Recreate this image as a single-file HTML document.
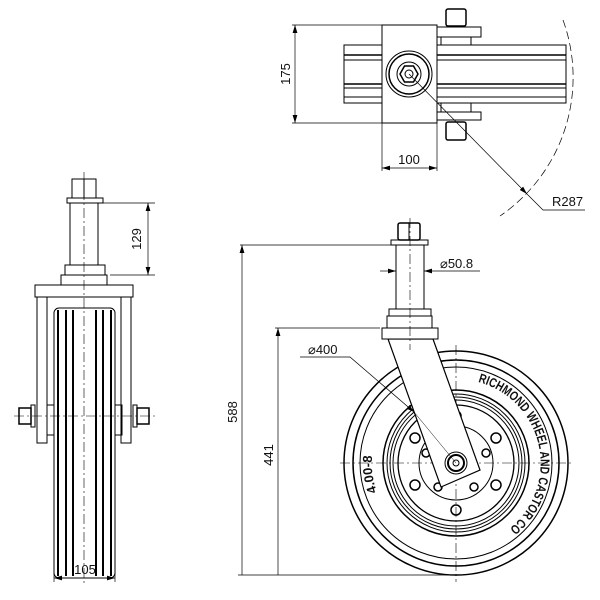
<!DOCTYPE html>
<html><head><style>
html,body{margin:0;padding:0;background:#fff;}
svg{display:block;}
text{font-family:"Liberation Sans",sans-serif;font-size:13px;fill:#111;}
</style></head><body>
<svg width="600" height="600" viewBox="0 0 600 600" xmlns="http://www.w3.org/2000/svg">
<defs>
<marker id="a" viewBox="0 0 10 6" refX="10" refY="3" markerWidth="8" markerHeight="5" orient="auto-start-reverse" markerUnits="userSpaceOnUse"><path d="M0,0 L10,3 L0,6 z" fill="#000"/></marker>
<path id="arcR" d="M478,382 A84,84 0 0 1 471,546"/>
<path id="arcL" d="M377,492 A84,84 0 0 1 377,434"/>
</defs>
<g fill="none" stroke="#000" stroke-width="1">

<rect x="72" y="179" width="24" height="19" fill="#fff"/>
<line x1="84" y1="179" x2="84" y2="198"/>
<rect x="67" y="198" width="36" height="5"/>
<rect x="70" y="203" width="28" height="62"/>
<rect x="65" y="265" width="40" height="10"/>
<rect x="61" y="275" width="46" height="10"/>
<rect x="35" y="285" width="98" height="12"/>
<rect x="37" y="297" width="10" height="146"/>
<rect x="121" y="297" width="10" height="146"/>
<rect x="54" y="308" width="61" height="270" rx="5"/>
<g stroke-width="2">
<line x1="58" y1="310" x2="58" y2="576"/>
<line x1="66" y1="310" x2="66" y2="576"/>
<line x1="73" y1="310" x2="73" y2="576"/>
<line x1="96" y1="310" x2="96" y2="576"/>
<line x1="103" y1="310" x2="103" y2="576"/>
<line x1="111" y1="310" x2="111" y2="576"/>
</g>
<rect x="47" y="405" width="7" height="30"/>
<rect x="115" y="405" width="7" height="30"/>
<rect x="19" y="408" width="12" height="16" stroke-width="1.5"/>
<rect x="31" y="405" width="4" height="22"/>
<rect x="137" y="408" width="12" height="16" stroke-width="1.5"/>
<rect x="133" y="405" width="4" height="22"/>
<line x1="84" y1="172" x2="84" y2="585" stroke-width="0.6" stroke-dasharray="10,3,2,3"/>
<line x1="14" y1="416" x2="155" y2="416" stroke-width="0.6" stroke-dasharray="10,3,2,3"/>
<line x1="103" y1="203" x2="155" y2="203" stroke-width="0.7"/>
<line x1="110" y1="275" x2="155" y2="275" stroke-width="0.7"/>
<line x1="148" y1="203" x2="148" y2="275" stroke-width="0.7" marker-start="url(#a)" marker-end="url(#a)"/>
<line x1="54" y1="560" x2="54" y2="582" stroke-width="0.7"/>
<line x1="115" y1="560" x2="115" y2="582" stroke-width="0.7"/>
<line x1="54" y1="578" x2="115" y2="578" stroke-width="0.7" marker-start="url(#a)" marker-end="url(#a)"/>

<rect x="344" y="45" width="222" height="58" fill="#fff"/>
<line x1="344" y1="55" x2="566" y2="55" stroke-width="1.5"/>
<line x1="344" y1="60" x2="566" y2="60"/>
<line x1="344" y1="84" x2="566" y2="84" stroke-width="1.5"/>
<line x1="344" y1="88" x2="566" y2="88"/>
<line x1="344" y1="97" x2="566" y2="97"/>
<rect x="437" y="27" width="44" height="10" fill="#fff"/>
<rect x="441" y="37" width="30" height="8" fill="#fff"/>
<rect x="437" y="112" width="44" height="8" fill="#fff"/>
<rect x="441" y="103" width="30" height="9" fill="#fff"/>
<rect x="446" y="9" width="20" height="17" rx="2" fill="#fff" stroke-width="1.5"/>
<rect x="446" y="122" width="20" height="18" rx="2" fill="#fff" stroke-width="1.5"/>
<rect x="382" y="25" width="55" height="98" fill="#fff"/>
<circle cx="409" cy="74" r="23"/>
<circle cx="409" cy="74" r="20" stroke-width="1.5"/>
<circle cx="409" cy="74" r="12"/>
<polygon points="418,74 413.5,82 404.5,82 400,74 404.5,66 413.5,66" stroke-width="1.5"/>
<circle cx="409" cy="74" r="4"/>
<line x1="292" y1="25" x2="382" y2="25" stroke-width="0.7"/>
<line x1="292" y1="123" x2="382" y2="123" stroke-width="0.7"/>
<line x1="295" y1="25" x2="295" y2="123" stroke-width="0.7" marker-start="url(#a)" marker-end="url(#a)"/>
<line x1="382" y1="123" x2="382" y2="171" stroke-width="0.7"/>
<line x1="437" y1="123" x2="437" y2="171" stroke-width="0.7"/>
<line x1="382" y1="168" x2="437" y2="168" stroke-width="0.7" marker-start="url(#a)" marker-end="url(#a)"/>
<path d="M563,20 A168,168 0 0 1 500,216" stroke-width="0.7" stroke-dasharray="8,4"/>
<line x1="409" y1="74" x2="527" y2="194" stroke-width="0.7" marker-end="url(#a)"/>
<polyline points="527,194 543,210 585,210" stroke-width="0.7"/>

<circle cx="456" cy="463" r="112" stroke-width="1.5"/>
<circle cx="456" cy="463" r="103" stroke-width="1.5"/>
<circle cx="456" cy="463" r="96"/>
<circle cx="456" cy="463" r="73" stroke-width="1.5"/>
<circle cx="456" cy="463" r="69"/>
<circle cx="456" cy="463" r="66"/>
<circle cx="456" cy="463" r="63"/>
<circle cx="456" cy="463" r="58" stroke-width="1.3"/>
<circle cx="456" cy="463" r="37"/>
<g stroke-width="1.5">
<circle cx="415" cy="438" r="5"/><circle cx="496" cy="438" r="5"/>
<circle cx="415" cy="485" r="5"/><circle cx="496" cy="485" r="5"/>
<circle cx="456" cy="510" r="5"/><circle cx="456" cy="416" r="5"/>
<circle cx="426" cy="453" r="4"/><circle cx="486" cy="453" r="4"/>
<circle cx="438" cy="487" r="4"/><circle cx="474" cy="487" r="4"/>
</g>
<line x1="456" y1="345" x2="456" y2="582" stroke-width="0.6" stroke-dasharray="10,3,2,3"/>
<line x1="340" y1="463" x2="572" y2="463" stroke-width="0.6" stroke-dasharray="10,3,2,3"/>
<polygon points="388,339 433,339 480,470 441,487" fill="#fff" stroke-width="1.2"/>
<circle cx="456" cy="463" r="11" fill="#fff"/>
<circle cx="456" cy="463" r="8" stroke-width="2"/>
<circle cx="456" cy="463" r="3"/>
<rect x="398" y="223" width="22" height="17" rx="2" stroke-width="1.5"/>
<line x1="409" y1="223" x2="409" y2="240"/>
<rect x="391" y="240" width="37" height="5"/>
<rect x="396" y="245" width="28" height="64"/>
<rect x="389" y="309" width="42" height="7"/>
<rect x="387" y="316" width="45" height="12"/>
<rect x="382" y="328" width="56" height="11" fill="#fff"/>
<line x1="410" y1="218" x2="410" y2="350" stroke-width="0.6" stroke-dasharray="10,3,2,3"/>
<line x1="240" y1="245" x2="392" y2="245" stroke-width="0.7"/>
<line x1="242" y1="245" x2="242" y2="575" stroke-width="0.7" marker-start="url(#a)"/>
<line x1="275" y1="328" x2="380" y2="328" stroke-width="0.7"/>
<line x1="278" y1="328" x2="278" y2="575" stroke-width="0.7" marker-start="url(#a)"/>
<line x1="238" y1="575" x2="456" y2="575" stroke-width="0.7"/>
<line x1="380" y1="271" x2="396" y2="271" stroke-width="0.7" marker-end="url(#a)"/>
<line x1="480" y1="271" x2="424" y2="271" stroke-width="0.7" marker-end="url(#a)"/>
<polyline points="300,357 350,357 414,412" stroke-width="0.7" marker-end="url(#a)"/>
<line x1="414" y1="412" x2="456" y2="463" stroke-width="0.5"/>
</g>

<text x="141" y="239" text-anchor="middle" transform="rotate(-90 141 239)">129</text>
<text x="85" y="574" text-anchor="middle">105</text>
<text x="290" y="74" text-anchor="middle" transform="rotate(-90 290 74)">175</text>
<text x="409" y="164" text-anchor="middle">100</text>
<text x="552" y="206">R287</text>
<text x="237" y="412" text-anchor="middle" transform="rotate(-90 237 412)">588</text>
<text x="273" y="455" text-anchor="middle" transform="rotate(-90 273 455)">441</text>
<text x="440" y="268">⌀50.8</text>
<text x="308" y="354">⌀400</text>
<text font-size="7" font-weight="bold"><textPath href="#arcR" textLength="185" lengthAdjust="spacingAndGlyphs">RICHMOND WHEEL AND CASTOR CO</textPath></text>
<text font-size="9" font-weight="bold"><textPath href="#arcL">4.00-8</textPath></text>
</svg>
</body></html>
